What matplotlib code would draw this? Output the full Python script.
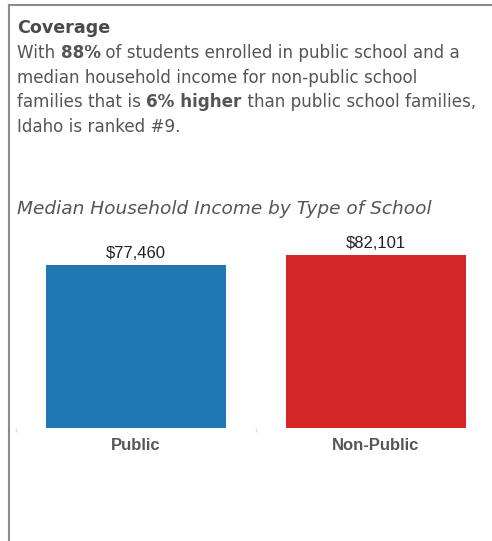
import matplotlib.pyplot as plt
from matplotlib.lines import Line2D

categories = ['Public', 'Non-Public']
incomes = [77460, 82101]
value_labels = ['$77,460', '$82,101']
colors = ['#1f77b4', '#d62728']

header = 'Coverage'
body = [
    [('With ', 'normal'), ('88%', 'bold'), (' of students enrolled in public school and a', 'normal')],
    [('median household income for non-public school', 'normal')],
    [('families that is ', 'normal'), ('6% higher', 'bold'), (' than public school families,', 'normal')],
    [('Idaho is ranked #9.', 'normal')],
]
subtitle = 'Median Household Income by Type of School'

W, H = 492, 541
fig = plt.figure(figsize=(W / 100, H / 100), dpi=100)
r = fig.canvas.get_renderer()

# panel frame
fig.add_artist(Line2D([9 / W, 1], [1 - 5 / H, 1 - 5 / H], color='#8c8c8c', lw=1.5))
fig.add_artist(Line2D([9 / W, 9 / W], [0, 1 - 5 / H], color='#8c8c8c', lw=1.5))

fam = 'DejaVu Sans'
fs = 12.1
fig.text(17 / W, 1 - 33 / H, header, fontsize=12.6, color='#4a4a4a', family=fam,
         weight='bold', va='baseline')

y = 58
for parts in body:
    x = 17
    for s, w in parts:
        t = fig.text(x / W, 1 - y / H, s, fontsize=fs, color='#555555', weight=w,
                     family=fam, va='baseline')
        x += t.get_window_extent(r).width
    y += 24.7

fig.text(17 / W, 1 - 209 / H, subtitle, fontsize=13.3, style='italic',
         color='#555555', family=fam, va='center')

ax = fig.add_axes([16 / W, (H - 428) / H, 480 / W, 189.4 / H])
xs = range(len(categories))
bars = ax.bar(xs, incomes, width=0.75, color=colors)
ax.set_xlim(-0.5, 1.5)
ax.set_ylim(0, 90000)
for b, lab in zip(bars, value_labels):
    ax.annotate(lab, (b.get_x() + b.get_width() / 2, b.get_height()),
                xytext=(0, 3), textcoords='offset points', ha='center', va='bottom',
                fontsize=12, color='#222222', family='Liberation Sans')
ax.set_xticks(list(xs))
ax.set_xticklabels(categories, fontsize=12, weight='bold', color='#555555',
                   family='Liberation Sans')
ax.tick_params(axis='x', length=0, pad=7)
ax.set_xticks([-0.5, 0.5], minor=True)
ax.tick_params(axis='x', which='minor', length=3, color='#dddddd', width=1)
ax.set_yticks([])
for s in ax.spines.values():
    s.set_visible(False)

fig.savefig('out.png', dpi=100)
